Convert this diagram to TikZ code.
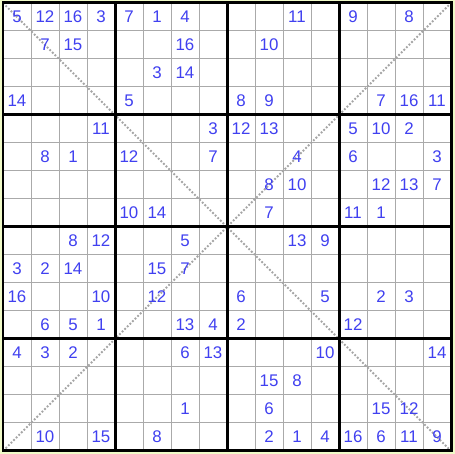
\documentclass[tikz,border=0pt]{standalone}
\usepackage{fontspec}
\setmainfont{Liberation Sans}
\usepackage{xcolor}
\usetikzlibrary{calc}

\definecolor{paper}{RGB}{240,250,200}
\definecolor{digitblue}{RGB}{64,64,240}
\definecolor{thingrid}{RGB}{170,170,170}
\definecolor{diaggray}{RGB}{165,165,165}

\begin{document}
\begin{tikzpicture}[x=0.7cm, y=0.7cm,
    digit/.style={text=digitblue, inner sep=0pt, font=\fontsize{12}{13}\selectfont},
    thin line/.style={draw=thingrid, line width=0.025cm},
    box line/.style={draw=black, line width=0.075cm},
    diag line/.style={draw=diaggray, line width=1.3pt, dash pattern=on 1.3pt off 1.3pt}]
    % paper and white board
    \fill[paper] (-3/28, -3/28) rectangle (16+4/28, 16+3/28);
    \fill[white] (0, 0) rectangle (16, 16);
    % cell lines
    \foreach \i in {1,...,15}
        \draw[thin line] (\i, 0) -- (\i, 16) (0, \i) -- (16, \i);
    % the two diagonals
    \coordinate (tl) at (0, 16);
    \coordinate (tr) at (16, 16);
    \coordinate (bl) at (0, 0);
    \coordinate (br) at (16, 0);
    \draw[diag line] (tl) -- (br);
    \draw[diag line] (bl) -- (tr);
    % box lines
    \foreach \i in {4, 8, 12}
        \draw[box line] (\i, 0) -- (\i, 16) (0, \i) -- (16, \i);
    \draw[box line] (bl) rectangle (tr);
    % givens: row/column/value
    \foreach \r/\c/\v in {
        1/1/5, 1/2/12, 1/3/16, 1/4/3, 1/5/7, 1/6/1, 1/7/4, 1/11/11, 1/13/9, 1/15/8,
        2/2/7, 2/3/15, 2/7/16, 2/10/10,
        3/6/3, 3/7/14,
        4/1/14, 4/5/5, 4/9/8, 4/10/9, 4/14/7, 4/15/16, 4/16/11,
        5/4/11, 5/8/3, 5/9/12, 5/10/13, 5/13/5, 5/14/10, 5/15/2,
        6/2/8, 6/3/1, 6/5/12, 6/8/7, 6/11/4, 6/13/6, 6/16/3,
        7/10/8, 7/11/10, 7/14/12, 7/15/13, 7/16/7,
        8/5/10, 8/6/14, 8/10/7, 8/13/11, 8/14/1,
        9/3/8, 9/4/12, 9/7/5, 9/11/13, 9/12/9,
        10/1/3, 10/2/2, 10/3/14, 10/6/15, 10/7/7,
        11/1/16, 11/4/10, 11/6/12, 11/9/6, 11/12/5, 11/14/2, 11/15/3,
        12/2/6, 12/3/5, 12/4/1, 12/7/13, 12/8/4, 12/9/2, 12/13/12,
        13/1/4, 13/2/3, 13/3/2, 13/7/6, 13/8/13, 13/12/10, 13/16/14,
        14/10/15, 14/11/8,
        15/7/1, 15/10/6, 15/14/15, 15/15/12,
        16/2/10, 16/4/15, 16/6/8, 16/10/2, 16/11/1, 16/12/4, 16/13/16, 16/14/6, 16/15/11, 16/16/9}
        \node[digit] (g-\r-\c) at (\c-0.5, 16.5-\r) {\v};
\end{tikzpicture}
\end{document}
